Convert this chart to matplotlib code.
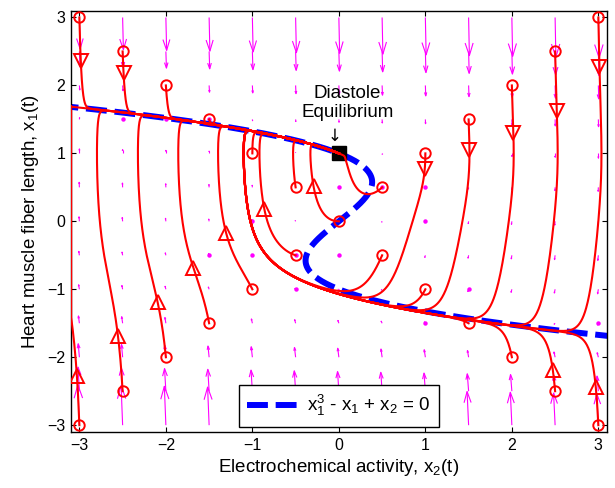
import numpy as np
import matplotlib
matplotlib.use("Agg")
import matplotlib.pyplot as plt
from matplotlib.collections import LineCollection

# ---------------- model (Zeeman heartbeat) ----------------
EPS = 0.2            # fast time-scale parameter
X1_DIASTOLE = 1.0    # diastole fibre length
T_END = 20.0
DT = 0.002

# quiver grid (x2 horizontal, x1 vertical)
grid_x2 = [-3.0, -2.5, -2.0, -1.5, -1.0, -0.5, 0.0, 0.5, 1.0, 1.5, 2.0, 2.5, 3.0]
grid_x1 = [-3.0, -2.5, -2.0, -1.5, -1.0, -0.5, 0.0, 0.5, 1.0, 1.5, 2.0, 2.5, 3.0]

# grid points that appear as dots
dot_x2 = [-2.5, -2.0, -1.5, 0.0, 0.5, 0.0, 0.0, -0.5, -0.5, -1.0, -1.0, -1.5, 1.0, 1.0, 1.5, 1.0, 3.0]
dot_x1 = [1.5, 1.5, 1.5, 0.5, 0.5, 0.0, -0.5, -0.5, -1.0, 0.0, -0.5, -0.5, 0.5, 0.0, -1.0, -1.5, -1.5]

# initial conditions of the trajectories (open circles)
ic_x2 = [-3.0, -2.5, -2.0, -1.5, -1.0, -0.5, 0.0, 0.5, 1.0, 1.5, 2.0, 2.5, 3.0,
         -3.0, -2.5, -2.0, -1.5, -1.0, -0.5, 0.5, 1.0, 1.5, 2.0, 2.5, 3.0]
ic_x1 = [3.0, 2.5, 2.0, 1.5, 1.0, 0.5, 0.0, 0.5, 1.0, 1.5, 2.0, 2.5, 3.0,
         -3.0, -2.5, -2.0, -1.5, -1.0, -0.5, -0.5, -1.0, -1.5, -2.0, -2.5, -3.0]
# x1 level where each trajectory carries its direction triangle (nan = none visible)
nan = float("nan")
tri_x1 = [2.36, 2.14, nan, nan, nan, nan, 0.52, nan, 0.77, 1.04, 1.29, 1.62, 2.16,
          -2.17, -1.64, -1.18, -0.68, -0.16, 0.18, nan, nan, nan, nan, -2.15, -2.37]

# equilibrium
eq_x2, eq_x1 = 0.0, 1.0

# ---------------- style ----------------
XLIM = (-3.1, 3.1)
YLIM = (-3.1, 3.1)
ARROW_SCALE = 0.0044
RED = "#FF0000"
BLUE = "#0000FF"
MAG = "#FF00FF"

plt.rcParams["font.family"] = ["Liberation Sans", "DejaVu Sans"]
plt.rcParams["mathtext.fontset"] = "custom"
plt.rcParams["mathtext.rm"] = "Liberation Sans"
plt.rcParams["mathtext.it"] = "Liberation Sans"
plt.rcParams["mathtext.default"] = "regular"


def field(x2, x1):
    dx1 = -(x1 ** 3 - x1 + x2) / EPS
    dx2 = x1 - X1_DIASTOLE
    return dx2, dx1


def integrate(x2, x1):
    x2 = np.array(x2, float)
    x1 = np.array(x1, float)
    n = int(T_END / DT)
    P2 = np.empty((n + 1, x2.size))
    P1 = np.empty((n + 1, x1.size))
    P2[0], P1[0] = x2, x1
    for i in range(n):
        a2, a1 = field(x2, x1)
        b2, b1 = field(x2 + 0.5 * DT * a2, x1 + 0.5 * DT * a1)
        c2, c1 = field(x2 + 0.5 * DT * b2, x1 + 0.5 * DT * b1)
        d2, d1 = field(x2 + DT * c2, x1 + DT * c1)
        x2 = x2 + DT / 6 * (a2 + 2 * b2 + 2 * c2 + d2)
        x1 = x1 + DT / 6 * (a1 + 2 * b1 + 2 * c1 + d1)
        P2[i + 1], P1[i + 1] = x2, x1
    return P2, P1


fig = plt.figure(figsize=(6.15, 4.88), dpi=100)
ax = fig.add_axes([0.115, 0.1148, 0.872, 0.8633])

# ---------- quiver (MATLAB-like open arrow heads) ----------
G2, G1 = np.meshgrid(grid_x2, grid_x1)
U, V = field(G2, G1)
U = U * ARROW_SCALE
V = V * ARROW_SCALE
alpha, beta = 0.33, 0.25
segs = []
for x, y, u, v in zip(G2.ravel(), G1.ravel(), U.ravel(), V.ravel()):
    tx, ty = x + u, y + v
    segs.append([(x, y), (tx, ty)])
    segs.append([(tx - alpha * (u + beta * v), ty - alpha * (v - beta * u)), (tx, ty),
                 (tx - alpha * (u - beta * v), ty - alpha * (v + beta * u))])
ax.add_collection(LineCollection(segs, colors=MAG, linewidths=0.8, zorder=1))
ax.plot(dot_x2, dot_x1, "o", color=MAG, ms=3.2, mec="none", zorder=1)

# ---------- nullcline ----------
x1c = np.linspace(-1.75, 1.75, 400)
x2c = x1c - x1c ** 3
ax.plot(x2c, x1c, color=BLUE, lw=4.3, dashes=(3.5, 1.3), zorder=2,
        label="x$_1^3$ - x$_1$ + x$_2$ = 0")

# ---------- equilibrium ----------
ax.plot([eq_x2], [eq_x1], "s", color="black", ms=10, zorder=3)

# ---------- trajectories ----------
P2, P1 = integrate(ic_x2, ic_x1)
P2v = np.clip(P2, XLIM[0] + 0.005, XLIM[1] - 0.005)
for k in range(len(ic_x2)):
    ax.plot(P2v[:, k], P1[:, k], color=RED, lw=1.5, zorder=4)
    ax.plot(ic_x2[k], ic_x1[k], "o", mfc="none", mec=RED, mew=1.4, ms=7.5, zorder=5)
    lvl = tri_x1[k]
    if not np.isnan(lvl):
        s = np.sign(P1[:, k] - lvl)
        idx = np.where(s[1:] != s[:-1])[0]
        if idx.size:
            j = idx[0]
            up = P1[j + 1, k] > P1[j, k]
            ax.plot(P2v[j, k], P1[j, k], "^" if up else "v", mfc="none", mec=RED,
                    mew=1.4, ms=10, zorder=5)

# ---------- annotation ----------
ax.text(0.1, 1.74, "Diastole\nEquilibrium", ha="center", va="center",
        fontsize=13.5, linespacing=1.1, zorder=6)
ax.text(-0.05, 1.25, "\u2193", ha="center", va="center", fontsize=12,
        family=["DejaVu Sans"], zorder=6)

# ---------- axes ----------
ax.set_xlim(*XLIM)
ax.set_ylim(*YLIM)
ax.set_xticks([-3, -2, -1, 0, 1, 2, 3])
ax.set_yticks([-3, -2, -1, 0, 1, 2, 3])
ax.tick_params(direction="in", top=True, right=True, length=3.5, width=0.8,
               labelsize=11.5, pad=4)
for sp in ax.spines.values():
    sp.set_linewidth(1.0)
ax.set_xlabel("Electrochemical activity, x$_2$(t)", fontsize=13.5, labelpad=3)
ax.set_ylabel("Heart muscle fiber length, x$_1$(t)", fontsize=13.5, labelpad=4)

leg = ax.legend(loc="lower center", bbox_to_anchor=(0.5, 0.012), fontsize=13.5,
                frameon=True, fancybox=False, edgecolor="black", framealpha=1,
                handlelength=2.7, borderpad=0.45, handletextpad=0.5, borderaxespad=0)
leg.get_frame().set_linewidth(1.0)
leg.set_zorder(7)

fig.savefig("out.png", dpi=100)
